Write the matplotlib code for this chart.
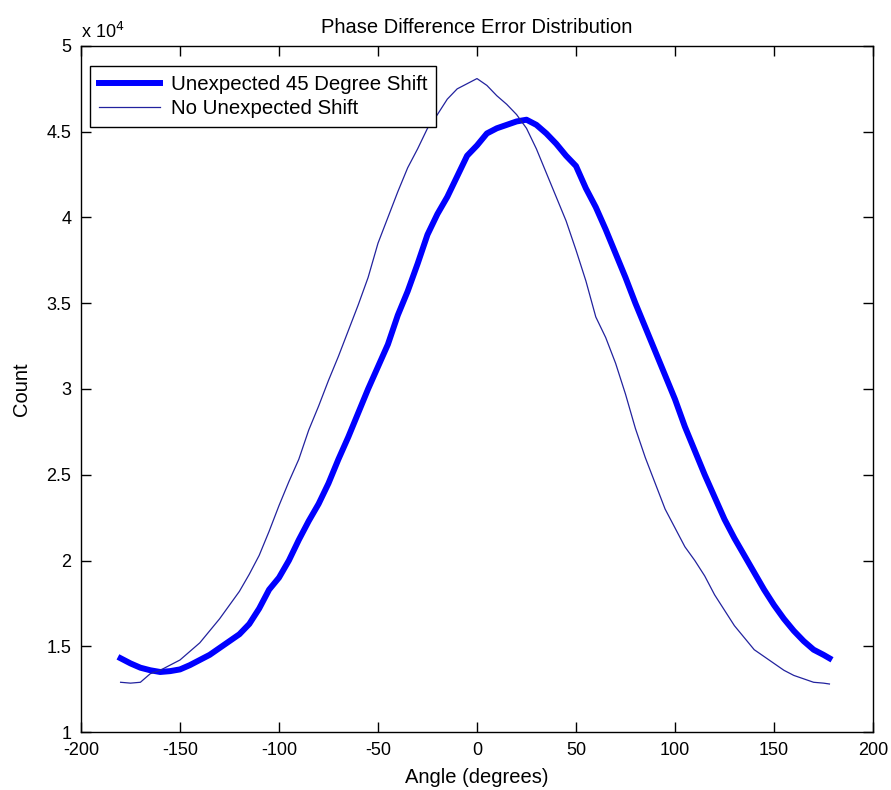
import matplotlib
matplotlib.use("Agg")
import matplotlib.pyplot as plt
from matplotlib.ticker import FuncFormatter

# angle bins (degrees)
angles = [-180, -175, -170, -165, -160, -155, -150, -145, -140, -135, -130, -125,
          -120, -115, -110, -105, -100, -95, -90, -85, -80, -75, -70, -65, -60,
          -55, -50, -45, -40, -35, -30, -25, -20, -15, -10, -5, 0, 5, 10, 15, 20,
          25, 30, 35, 40, 45, 50, 55, 60, 65, 70, 75, 80, 85, 90, 95, 100, 105,
          110, 115, 120, 125, 130, 135, 140, 145, 150, 155, 160, 165, 170, 175, 178]

# counts with the unexpected 45 degree shift
shift_counts = [14300, 14000, 13750, 13600, 13500, 13550, 13650, 13900, 14200,
                14500, 14900, 15300, 15700, 16300, 17200, 18300, 19000, 20000,
                21200, 22300, 23300, 24500, 25900, 27200, 28600, 30000, 31300,
                32600, 34300, 35700, 37300, 39000, 40200, 41200, 42400, 43600,
                44200, 44900, 45200, 45400, 45600, 45700, 45400, 44900, 44300,
                43600, 43000, 41700, 40600, 39300, 37900, 36500, 35000, 33600,
                32200, 30800, 29400, 27800, 26400, 25000, 23700, 22400, 21300,
                20300, 19300, 18300, 17400, 16600, 15900, 15300, 14800, 14500,
                14300]

# counts without the shift
noshift_counts = [12900, 12850, 12900, 13400, 13600, 13900, 14200, 14700, 15200,
                  15900, 16600, 17400, 18200, 19200, 20300, 21700, 23200, 24600,
                  25900, 27600, 29000, 30500, 31900, 33400, 34900, 36500, 38500,
                  40000, 41500, 42900, 44000, 45200, 46000, 46900, 47500, 47800,
                  48100, 47700, 47100, 46600, 46000, 45200, 44000, 42600, 41200,
                  39800, 38100, 36300, 34200, 33000, 31500, 29700, 27700, 26000,
                  24500, 23000, 21900, 20800, 20000, 19100, 18000, 17100, 16200,
                  15500, 14800, 14400, 14000, 13600, 13300, 13100, 12900, 12850,
                  12800]

plt.rcParams['font.family'] = ['Liberation Sans', 'DejaVu Sans']
plt.rcParams['axes.unicode_minus'] = False

fig = plt.figure(figsize=(8.91, 7.9), dpi=100)
ax = fig.add_axes([0.0909, 0.0734, 0.8889, 0.8684])

ax.plot(angles, shift_counts, color='#0000ff', lw=4.3, label='Unexpected 45 Degree Shift')
ax.plot(angles, noshift_counts, color='#22229e', lw=0.9, label='No Unexpected Shift')

ax.set_xlim(-200, 200)
ax.set_ylim(10000, 50000)
ax.set_xticks(range(-200, 201, 50))
ax.set_yticks([10000 + 5000 * i for i in range(9)])
ax.yaxis.set_major_formatter(FuncFormatter(lambda v, p: '%g' % (v / 1e4)))
ax.tick_params(direction='in', length=7, width=1, top=True, right=True, labelsize=13)
ax.tick_params(axis='x', pad=7)
ax.tick_params(axis='y', pad=7)
for s in ax.spines.values():
    s.set_linewidth(1)

ax.text(0.0, 1.006, r'x 10$^{4}$', transform=ax.transAxes, ha='left', va='bottom', fontsize=13)
ax.set_title('Phase Difference Error Distribution', fontsize=14.5, pad=9)
ax.set_xlabel('Angle (degrees)', fontsize=14.5, labelpad=7)
ax.set_ylabel('Count', fontsize=14.5, labelpad=11)

leg = ax.legend(loc='upper left', bbox_to_anchor=(0.0114, 0.971), fancybox=False,
                framealpha=1, edgecolor='black', fontsize=14.7, handlelength=3.0,
                borderpad=0.45, labelspacing=0.25, handletextpad=0.5, borderaxespad=0)
leg.get_frame().set_linewidth(1)

fig.savefig('out.png', dpi=100)
